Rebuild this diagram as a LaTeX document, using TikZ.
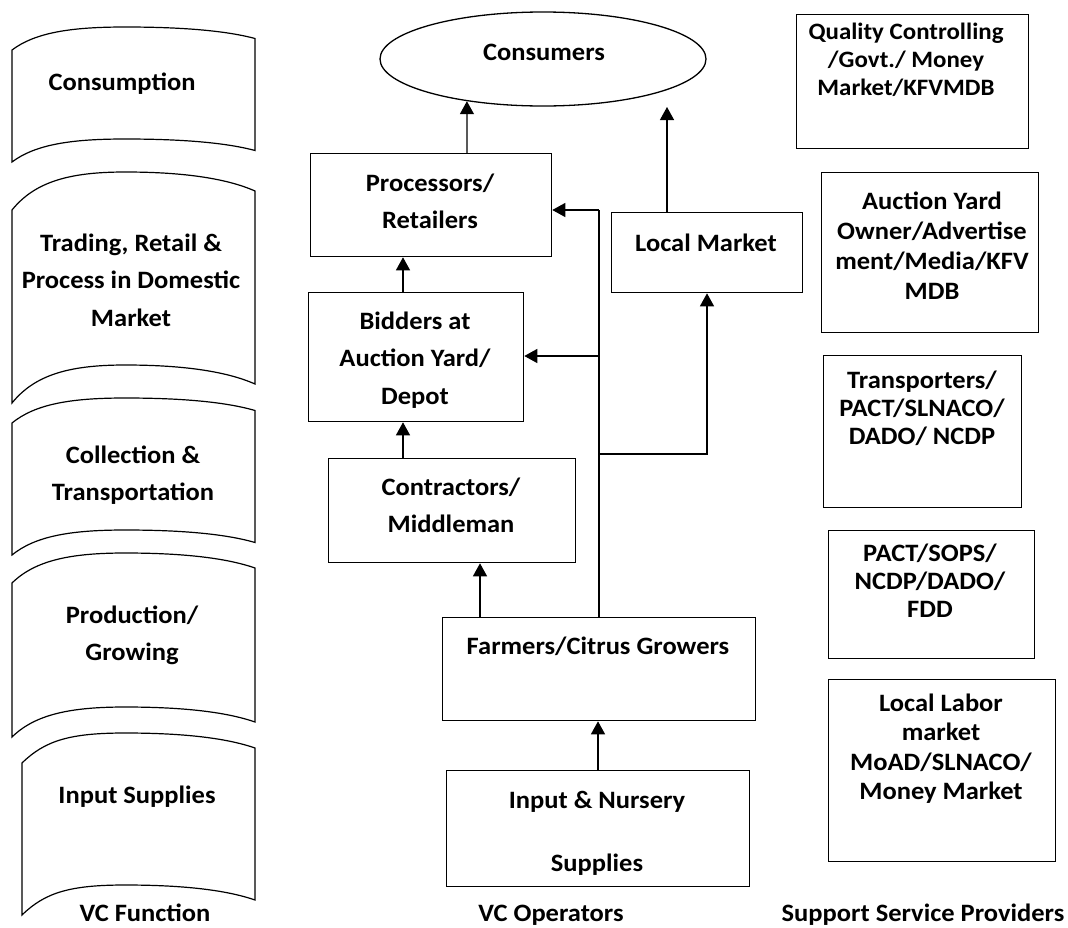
\documentclass[tikz,border=0pt]{standalone}
\usepackage{fontspec}
\setmainfont{Carlito}[FakeStretch=1.06]
\usetikzlibrary{arrows.meta,shapes.geometric}
% centred lines whose baseline is that of the first line
\newcommand{\lines}[1]{\begin{tabular}[t]{@{}c@{}}#1\end{tabular}}
\tikzset{
  box/.style={draw, line width=1.3pt, inner sep=0pt, anchor=north west},
  txt/.style={font=\bfseries\fontsize{25}{37.5}\selectfont, anchor=base, inner sep=0pt},
  txts/.style={txt, font=\bfseries\fontsize{25}{28}\selectfont},
  link/.style={line width=1.3pt},
  arr/.style={line width=1.3pt, -{Triangle[length=13pt,width=14pt]}},
  stage/.style={line width=1.2pt, line join=miter}
}
% one value-chain stage: left x, top-left y, wave height, bottom-left y
\newcommand{\stagebox}[4]{%
  \draw[stage] (#1,#2) .. controls (#1+23,#2-0.75*#3) and (70,#2-#3) .. (125,#2-#3)
     .. controls (180,#2-#3) and (225,#2-0.85*#3) .. (255,#2-0.5*#3)
     -- (255,#4-0.5*#3)
     .. controls (225,#4-0.85*#3) and (180,#4-#3) .. (125,#4-#3)
     .. controls (70,#4-#3) and (#1+23,#4-0.75*#3) .. (#1,#4) -- cycle;
}
\begin{document}
\begin{tikzpicture}[x=1pt,y=-1pt]
\useasboundingbox (0,0) rectangle (1068,927);

% ---- VC functions ----
\stagebox{12}{50}{23}{162}
\stagebox{12}{210}{38}{403}
\stagebox{12}{423}{25}{555}
\stagebox{12}{583}{30}{737}
\stagebox{22}{763}{30}{915}
\node[txt] (f1) at (122,90) {Consumption};
\node[txt] (f2) at (131,251) {\lines{Trading, Retail \&\\Process in Domestic\\Market}};
\node[txt] (f3) at (133,463) {\lines{Collection \&\\Transportation}};
\node[txt] (f4) at (132,623) {\lines{Production/\\Growing}};
\node[txt] (f5) at (137,803) {Input Supplies};
\node[txt] (h1) at (145,921) {VC Function};

% ---- VC operators ----
\node[draw, line width=1.3pt, ellipse, minimum width=326pt, minimum height=94pt, inner sep=0pt] (cons) at (543,59) {};
\node[txt] at (544,60) {Consumers};

\node[box, minimum width=241pt, minimum height=103pt] (proc) at (310,153) {};
\node[txt] at (430,191) {\lines{Processors/\\Retailers}};

\node[box, minimum width=191pt, minimum height=80pt] (loc) at (611,212) {};
\node[txt] at (706,251) {Local Market};

\node[box, minimum width=215pt, minimum height=129pt] (bid) at (308,292) {};
\node[txt] at (415,329) {\lines{Bidders at\\Auction Yard/\\Depot}};

\node[box, minimum width=247pt, minimum height=104pt] (con) at (328,458) {};
\node[txt] at (451,495) {\lines{Contractors/\\Middleman}};

\node[box, minimum width=313pt, minimum height=103pt] (farm) at (442,617) {};
\node[txt] at (598,654) {Farmers/Citrus Growers};

\node[box, minimum width=303pt, minimum height=116pt] (inp) at (446,770) {};
\node[txt, font=\bfseries\fontsize{25}{63}\selectfont] at (597,808) {\lines{Input \& Nursery\\Supplies}};

\node[txt] (h2) at (551,921) {VC Operators};

% ---- flows ----
\coordinate (tr) at (599,210);
\coordinate (j1) at (599,356);
\coordinate (j2) at (599,454);
\coordinate (k) at (707,454);
\coordinate (lmtop) at (667,107);

\draw[arr] (467,0 |- proc.north) -- (cons.209);
\draw[arr] (667,0 |- loc.north) -- (lmtop);
\draw[arr] (403,0 |- bid.north) -- (403,0 |- proc.south);
\draw[arr] (403,0 |- con.north) -- (403,0 |- bid.south);
\draw[arr] (480,0 |- farm.north) -- (480,0 |- con.south);
\draw[arr] (598,0 |- inp.north) -- (598,0 |- farm.south);
\draw[link] (599,0 |- farm.north) -- (tr);
\draw[arr] (tr) -- (tr -| proc.east);
\draw[arr] (j1) -- (j1 -| bid.east);
\draw[arr] (j2) -- (k) -- (k |- loc.south);

% ---- support service providers ----
\node[box, minimum width=232pt, minimum height=134pt] (s1) at (796,14) {};
\node[txts, font=\bfseries\fontsize{23.5}{28}\selectfont] at (906,39) {\lines{Quality Controlling\\/Govt./ Money\\Market/KFVMDB}};

\node[box, minimum width=217pt, minimum height=160pt] (s2) at (821,172) {};
\node[txt, font=\bfseries\fontsize{25}{30}\selectfont] at (932,209) {\lines{Auction Yard\\Owner/Advertise\\ment/Media/KFV\\MDB}};

\node[box, minimum width=198pt, minimum height=152pt] (s3) at (823,355) {};
\node[txts, font=\bfseries\fontsize{25}{28}\selectfont] at (922,388) {\lines{Transporters/\\PACT/SLNACO/\\DADO/ NCDP}};

\node[box, minimum width=206pt, minimum height=128pt] (s4) at (828,530) {};
\node[txts] at (930,561) {\lines{PACT/SOPS/\\NCDP/DADO/\\FDD}};

\node[box, minimum width=227pt, minimum height=182pt] (s5) at (828,679) {};
\node[txt, font=\bfseries\fontsize{25}{29.5}\selectfont] at (941,711) {\lines{Local Labor\\market\\MoAD/SLNACO/\\Money Market}};

\node[txt] (h3) at (923,921) {Support Service Providers};
\end{tikzpicture}
\end{document}
